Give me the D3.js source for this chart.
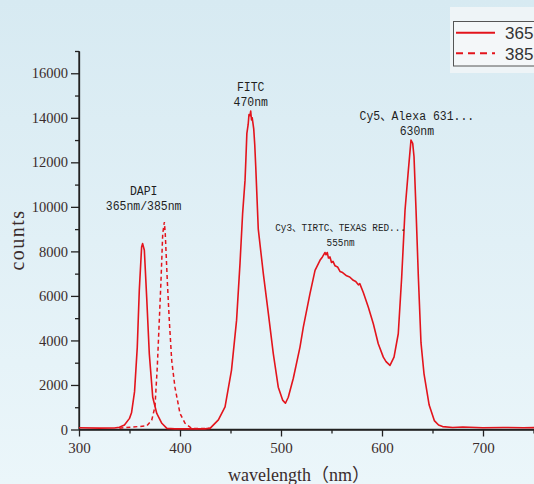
<!DOCTYPE html>
<html>
<head>
<meta charset="utf-8">
<script src="https://cdn.jsdelivr.net/npm/d3@7"></script>
<style>
  html, body { margin: 0; padding: 0; overflow: hidden; }
  svg { display: block; }
</style>
</head>
<body>
<script>
// ---- data ----
const wavelength365 = [300,320,335,340,345,350,352,355,357.7,359.7,362,363,364.7,367,369.6,373,377,382,387,395,410,425,430,438,444.6,451,456,459.4,462,464.4,465.2,466.2,467.5,468.3,469.3,470,470.8,471.5,473,474,475,477.5,482.5,487.5,492.4,497.3,501.6,504.4,507.2,512.2,518.8,522.1,528.7,533.7,538.6,541,543.6,544.5,545.8,547,548.5,550,551.5,553.5,556,558.4,561,565,568,571.6,574,576.6,578,581.5,586.4,591.4,596.3,601.3,604,607.9,611.9,616.1,619.5,622.8,626.1,628.7,630.4,631.7,633.7,636,638.6,641.6,646.7,651.8,656,660,670,680,700,720,740,760,780,800];
const counts365 = [80,60,70,100,200,500,750,1700,3700,6250,8200,8350,8050,5950,3400,1450,720,280,50,30,30,30,60,430,1020,2670,4900,7450,9700,11200,12100,13300,13700,14150,14100,14300,13900,14000,13500,12800,11800,9000,7000,5200,3400,1900,1320,1180,1450,2300,3700,4600,6100,7150,7600,7750,7950,7850,7950,7700,7750,7500,7550,7350,7300,7100,7050,6900,6850,6700,6650,6500,6550,6150,5500,4750,3850,3250,3050,2880,3250,4300,6850,9850,11650,13000,12850,12250,9850,6850,3900,2500,1100,400,200,130,90,110,80,90,80,90,80,80];
const wavelength385 = [340,352,367,372,375.2,377.5,379.5,381.2,382.9,384.5,385.4,387.4,389.4,391.8,395,400,405,411.6,430];
const counts385 = [60,110,160,420,1020,2800,4900,6700,8800,9320,8800,6700,4900,3100,1900,720,280,50,40];
const seriesNames = ["365nm","385nm"];
const xMajorTicks = [300,400,500,600,700];
const xMinorTicks = [350,450,550,650,750];
const yMajorTicks = [0,2000,4000,6000,8000,10000,12000,14000,16000];
const yMinorTicks = [1000,3000,5000,7000,9000,11000,13000,15000,17000];
const peakLabels = [
  {lines:["DAPI","365nm/385nm"], x:364, y:10530, small:false},
  {lines:["FITC","470nm"], x:470, y:15200, small:false},
  {lines:["Cy3、TIRTC、TEXAS RED...","555nm"], x:559, y:8915, small:true},
  {lines:["Cy5、Alexa 631...","630nm"], x:634.5, y:13900, small:false}
];

// ---- layout ----
const W = 534, H = 484;
const svg = d3.select("body").append("svg").attr("width", W).attr("height", H);

const defs = svg.append("defs");
const grad = defs.append("linearGradient").attr("id","bg").attr("x1",0).attr("y1",0).attr("x2",0).attr("y2",1);
grad.append("stop").attr("offset","0%").attr("stop-color","#d7eaf2");
grad.append("stop").attr("offset","100%").attr("stop-color","#ebf6fa");
svg.append("rect").attr("width",W).attr("height",H).attr("fill","url(#bg)");

const x = d3.scaleLinear().domain([300,800]).range([79,584]);
const y = d3.scaleLinear().domain([0,17000]).range([429.5,51]);

const axisColor = "#222";
const labelColor = "#3a2c2c";
const red = "#e3141c";

// x axis
const gx = svg.append("g").attr("transform",`translate(0,${y(0)})`);
gx.call(d3.axisBottom(x).tickValues(xMajorTicks).tickSize(7).tickPadding(6).tickFormat(d3.format("d")).tickSizeOuter(0));
gx.append("g").call(d3.axisBottom(x).tickValues(xMinorTicks).tickSize(4).tickFormat(""));
gx.selectAll(".domain").attr("stroke",axisColor).attr("stroke-width",1.3);
gx.selectAll(".tick line").attr("stroke",axisColor).attr("stroke-width",1.3);
gx.selectAll("text").attr("font-family","Liberation Serif").attr("font-size",15).attr("fill",labelColor);
gx.selectAll("g > g > .domain").remove();
gx.append("line").attr("x1",x(300)).attr("x2",x(800)).attr("y1",0).attr("y2",0).attr("stroke",axisColor).attr("stroke-width",1.3);

// y axis
const gy = svg.append("g").attr("transform",`translate(${x(300)},0)`);
gy.call(d3.axisLeft(y).tickValues(yMajorTicks).tickSize(8).tickPadding(3).tickFormat(d3.format("d")).tickSizeOuter(0));
gy.append("g").call(d3.axisLeft(y).tickValues(yMinorTicks).tickSize(4).tickFormat(""));
gy.selectAll(".domain").attr("stroke",axisColor).attr("stroke-width",1.3);
gy.selectAll(".tick line").attr("stroke",axisColor).attr("stroke-width",1.3);
gy.selectAll("text").attr("font-family","Liberation Serif").attr("font-size",14.5).attr("fill",labelColor);
gy.selectAll("g > g > .domain").remove();
gy.append("line").attr("x1",0).attr("x2",0).attr("y1",y(0)).attr("y2",y(17000)).attr("stroke",axisColor).attr("stroke-width",1.3);

// axis titles
svg.append("text").attr("x",299).attr("y",481).attr("text-anchor","middle")
  .attr("font-family","Liberation Serif, 'Noto Sans CJK SC'").attr("font-size",18).attr("fill",labelColor)
  .text("wavelength（nm）");
svg.append("text").attr("transform","translate(23.5,240) rotate(-90)").attr("text-anchor","middle")
  .attr("font-family","Liberation Serif").attr("font-size",20).attr("letter-spacing",1.5).attr("fill",labelColor)
  .text("counts");

// lines
const line = d3.line().x(d=>x(d[0])).y(d=>y(d[1]));
const d365 = wavelength365.map((w,i)=>[w,counts365[i]]);
const d385 = wavelength385.map((w,i)=>[w,counts385[i]]);
svg.append("path").datum(d385).attr("d",line).attr("fill","none").attr("stroke",red)
  .attr("stroke-width",1.5).attr("stroke-dasharray","4,3");
svg.append("path").datum(d365).attr("d",line).attr("fill","none").attr("stroke",red)
  .attr("stroke-width",1.6).attr("stroke-linejoin","round");

// peak labels
peakLabels.forEach(p=>{
  const fs = p.small ? 11 : 13.5;
  const sx = 0.85;
  const cx = x(p.x);
  p.lines.forEach((s,i)=>{
    svg.append("text")
      .attr("transform",`translate(${cx},${y(p.y) + i*15}) scale(${sx},1)`)
      .attr("text-anchor","middle")
      .attr("font-family","Liberation Mono, 'Noto Sans CJK SC'").attr("font-size",fs).attr("fill","#1e1e1e")
      .text(s);
  });
});

// legend
const lg = svg.append("g");
lg.append("rect").attr("x",450).attr("y",7).attr("width",100).attr("height",66).attr("fill","#eef4f7");
lg.append("rect").attr("x",453.5).attr("y",21.5).attr("width",100).attr("height",44.5).attr("fill","#f4f7f9").attr("stroke","#555").attr("stroke-width",1);
seriesNames.forEach((n,i)=>{
  const yy = 32.7 + i*20.6;
  lg.append("line").attr("x1",456).attr("x2",495).attr("y1",yy).attr("y2",yy).attr("stroke",red)
    .attr("stroke-width",2).attr("stroke-dasharray", i===1 ? "7,5" : null);
  lg.append("text").attr("x",505).attr("y",yy+6.5).attr("font-family","Liberation Sans").attr("font-size",17)
    .attr("fill","#333").text(n);
});
</script>
</body>
</html>
